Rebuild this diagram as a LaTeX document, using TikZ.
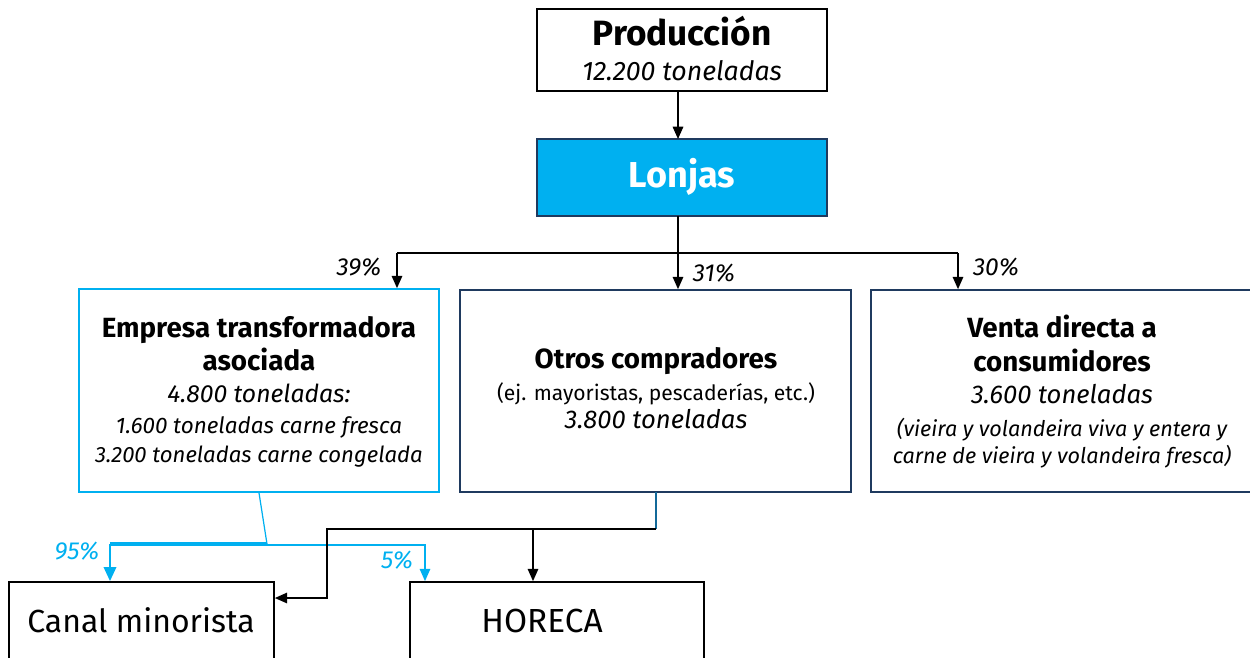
\documentclass[tikz,border=0pt]{standalone}
\usepackage{fontspec}
\setmainfont{Fira Sans}
\usetikzlibrary{arrows.meta}
\definecolor{cy}{HTML}{00B0F0}
\definecolor{nv}{HTML}{1F3A5F}
\newcommand{\fs}[1]{\fontsize{#1}{1.2\dimexpr #1pt\relax}\selectfont}
\begin{document}
\begin{tikzpicture}[x=0.02cm,y=-0.02cm,
  box/.style={draw, line width=1pt, inner sep=0pt},
  navybox/.style={box, draw=nv},
  t/.style={anchor=base, inner sep=0pt},
  hd/.style={t, font=\fs{15.8}\bfseries},
  it/.style={t, font=\fs{14.6}\itshape},
  sm/.style={t, font=\fs{12.5}\itshape},
  arr/.style={-{Triangle[length=7pt,width=6pt]}, line width=0.8pt},
  pct/.style={t, font=\fs{14}\itshape},
  cpct/.style={pct, text=cy}]
\useasboundingbox (0,0) rectangle (1250,657);

% boxes
\node[box, minimum width=5.8cm, minimum height=1.64cm] (prod) at (682,50) {};
\node[box, draw=nv, fill=cy, minimum width=5.8cm, minimum height=1.54cm] (lonj) at (682,177.5) {};
\node[box, draw=cy, minimum width=7.2cm, minimum height=4.06cm] (emp) at (259,390.5) {};
\node[navybox, minimum width=7.82cm, minimum height=4.04cm] (oth) at (655.5,391) {};
\node[navybox, minimum width=7.62cm, minimum height=4.04cm] (ven) at (1061.5,391) {};
\node[box, minimum width=5.3cm, minimum height=1.56cm] (can) at (141.5,621) {};
\node[box, minimum width=5.88cm, minimum height=1.56cm] (hor) at (557,621) {};

% texts
\node[t, font=\fs{20}\bfseries] (prodt) at (682,45) {Producción};
\node[t, font=\fs{15.2}\itshape] (prodq) at (682,80) {12.200 toneladas};
\node[t, font=\fs{20.5}\bfseries, text=white] (lonjt) at (682,187) {Lonjas};

\node[hd] (empt1) at (259,337) {Empresa transformadora};
\node[hd] (empt2) at (259,370) {asociada};
\node[it, font=\fs{14.1}\itshape] (empq) at (259,402) {4.800 toneladas:};
\node[sm, font=\fs{12.8}\itshape] (emp1) at (259,433) {1.600 toneladas carne fresca};
\node[sm, font=\fs{12.6}\itshape] (emp2) at (259,462) {3.200 toneladas carne congelada};

\node[hd] (otht) at (656,368) {Otros compradores};
\node[t, font=\fs{12}] (othe) at (656,400) {(ej. mayoristas, pescaderías, etc.)};
\node[it] (othq) at (656,428) {3.800 toneladas};

\node[hd] (vent1) at (1062,337) {Venta directa a};
\node[hd] (vent2) at (1062,371) {consumidores};
\node[it] (venq) at (1062,403) {3.600 toneladas};
\node[sm, font=\fs{12.3}\itshape] (ven1) at (1062,436) {(vieira y volandeira viva y entera y};
\node[sm, font=\fs{12.3}\itshape] (ven2) at (1062,463) {carne de vieira y volandeira fresca)};

\node[t, font=\fs{18.2}] (cant) at (141,632) {Canal minorista};
\node[t, font=\fs{19}] (hort) at (542,632) {HORECA};

% top connectors
\coordinate (pa) at (678,91);
\coordinate (pb) at (678,139);
\coordinate (lb) at (678,216);
\coordinate (j) at (678,253);
\coordinate (jl) at (397,253);
\coordinate (jr) at (958,253);
\draw[arr] (pa) -- (pb);
\draw[line width=0.8pt] (lb) -- (j);
\draw[line width=0.8pt] (jl) -- (jr);
\draw[arr] (jl) -- (jl |- emp.north);
\draw[arr] (j) -- (j |- oth.north);
\draw[arr] (jr) -- (jr |- ven.north);
\node[pct] (p39) at (359,275) {39\%};
\node[pct] (p31) at (714,281) {31\%};
\node[pct] (p30) at (996,275) {30\%};

% Empresa branches
\coordinate (ek) at (267,544);
\coordinate (el) at (110,544);
\coordinate (ek2) at (267,545);
\coordinate (er) at (425,545);
\draw[cy, line width=0.7pt] (emp.south) -- (ek);
\draw[cy, line width=2.4pt] (ek) -- (el);
\draw[cy, line width=1.4pt, -{Triangle[length=8pt,width=7pt]}] (el) -- (el |- can.north);
\draw[cy, line width=0.7pt, -{Triangle[length=7pt,width=6pt]}] (ek2) -- (er) -- (er |- hor.north);
\node[cpct] (p95) at (77,559) {95\%};
\node[cpct] (p5) at (397,568) {5\%};

% Otros branches
\coordinate (ot) at (656,492);
\coordinate (ob) at (656,529);
\coordinate (ol) at (327,529);
\coordinate (oc) at (327,598);
\coordinate (oh) at (533,529);
\draw[nv!60!cy, line width=0.6pt] (ot) -- (ob);
\draw[line width=0.8pt] (ob) -- (oh);
\draw[arr] (oh) -- (ol) -- (oc) -- (oc -| can.east);
\draw[arr] (oh) -- (oh |- hor.north);
\end{tikzpicture}
\end{document}
